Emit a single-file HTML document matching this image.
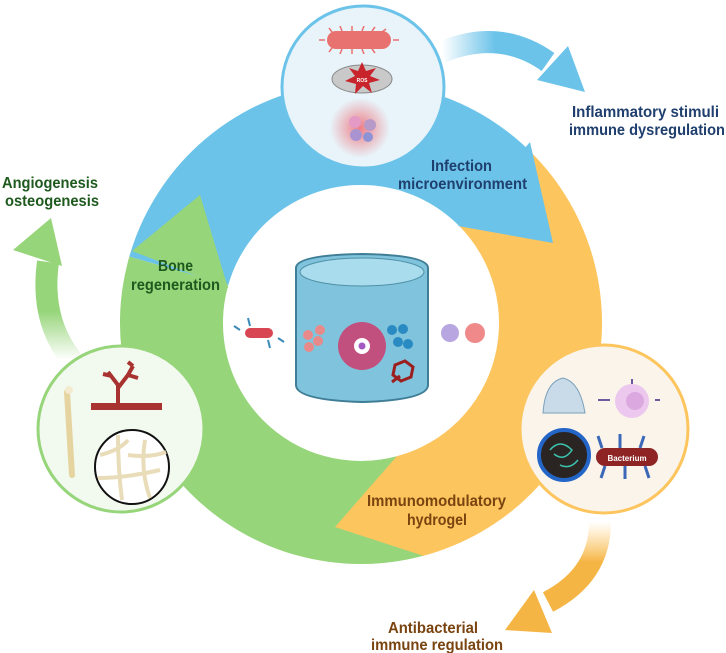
<!DOCTYPE html>
<html><head><meta charset="utf-8"><style>
html,body{margin:0;padding:0;background:#fff;}
svg{display:block;}
text{font-family:"Liberation Sans",sans-serif;font-weight:bold;}
</style></head><body>
<svg width="726" height="653" viewBox="0 0 726 653" xmlns="http://www.w3.org/2000/svg">
<defs>
<linearGradient id="gb" x1="0" y1="0" x2="1" y2="0"><stop offset="0" stop-color="#6cc3e9" stop-opacity="0"/><stop offset="0.5" stop-color="#6cc3e9"/></linearGradient>
<linearGradient id="gg" x1="0" y1="1" x2="0" y2="0"><stop offset="0" stop-color="#97d57a" stop-opacity="0"/><stop offset="0.5" stop-color="#97d57a"/></linearGradient>
<linearGradient id="gy" x1="0" y1="0" x2="0" y2="1"><stop offset="0" stop-color="#fdc55e" stop-opacity="0"/><stop offset="0.5" stop-color="#f5b545"/></linearGradient>
<radialGradient id="rg"><stop offset="0" stop-color="#f0606a" stop-opacity="0.8"/><stop offset="1" stop-color="#f0606a" stop-opacity="0"/></radialGradient>
</defs>
<path d="M442,52 Q500,28 548,62" stroke="url(#gb)" stroke-width="22" fill="none"/>
<polygon points="585,92 537,80 568,46" fill="#6cc3e9"/>
<path d="M72,360 Q40,320 48,262" stroke="url(#gg)" stroke-width="22" fill="none"/>
<polygon points="51,218 13,250 62,266" fill="#97d57a"/>
<path d="M600,522 Q600,575 548,602" stroke="url(#gy)" stroke-width="22" fill="none"/>
<polygon points="505,630 534,590 552,633" fill="#f5b545"/>
<path d="M129.3,256.6 A241,241 0 0 1 531.4,152.6 L458.6,225.4 A138,138 0 0 0 228.3,285 Z" fill="#6cc3e9"/>
<path d="M531.4,152.6 A241,241 0 0 1 423.4,555.8 L396.7,456.3 A138,138 0 0 0 458.6,225.4 Z" fill="#fdc55e"/>
<path d="M423.4,555.8 A241,241 0 0 1 129.3,256.6 L228.3,285 A138,138 0 0 0 396.7,456.3 Z" fill="#97d57a"/>
<polygon points="530,142 553,243 458,226" fill="#6cc3e9"/>
<polygon points="132,251 200,195 228,288" fill="#97d57a"/>
<polygon points="424,556 335,527 397,456" fill="#fdc55e"/>
<g font-size="15.5" lengthAdjust="spacingAndGlyphs">
<text x="431" y="171" textLength="61" lengthAdjust="spacingAndGlyphs" fill="#1f3f6e">Infection</text>
<text x="398" y="189" textLength="129" lengthAdjust="spacingAndGlyphs" fill="#1f3f6e">microenvironment</text>
<text x="158" y="271" textLength="35" lengthAdjust="spacingAndGlyphs" fill="#1e5a1e">Bone</text>
<text x="131" y="290" textLength="89" lengthAdjust="spacingAndGlyphs" fill="#1e5a1e">regeneration</text>
<text x="367" y="506" textLength="139" lengthAdjust="spacingAndGlyphs" fill="#7a4410">Immunomodulatory</text>
<text x="407" y="525" textLength="60" lengthAdjust="spacingAndGlyphs" fill="#7a4410">hydrogel</text>
<text x="572" y="117" textLength="147" lengthAdjust="spacingAndGlyphs" fill="#1f3f6e">Inflammatory stimuli</text>
<text x="569" y="135" textLength="156" lengthAdjust="spacingAndGlyphs" fill="#1f3f6e">immune dysregulation</text>
<text x="2" y="188" textLength="96" lengthAdjust="spacingAndGlyphs" fill="#1e5a1e">Angiogenesis</text>
<text x="5" y="206" textLength="94" lengthAdjust="spacingAndGlyphs" fill="#1e5a1e">osteogenesis</text>
<text x="388" y="633" textLength="90" lengthAdjust="spacingAndGlyphs" fill="#7a4410">Antibacterial</text>
<text x="371" y="650" textLength="132" lengthAdjust="spacingAndGlyphs" fill="#7a4410">immune regulation</text>
</g>
<circle cx="363" cy="87" r="81" fill="#e8f4fa" stroke="#6cc3e9" stroke-width="3"/>
<g stroke="#e86f6f" stroke-width="1.5" fill="none">
<path d="M332,32 l-3,-4 M342,31 l-2,-5 M352,31 l0,-5 M362,31 l2,-5 M372,31 l3,-4 M382,32 l4,-3 M332,48 l-3,4 M342,49 l-2,5 M352,49 l0,5 M362,49 l2,5 M372,49 l3,4 M325,40 l-6,0 M393,40 l6,0"/>
</g>
<rect x="327" y="31" width="64" height="18" rx="9" fill="#e8726f"/>
<ellipse cx="362" cy="79" rx="30" ry="14" fill="#c9c9c9" stroke="#888" stroke-width="1"/>
<polygon points="362,62 366,71 376,68 370,76 380,80 369,83 372,93 363,86 355,94 356,84 345,81 355,76 349,68 358,71" fill="#c8242c"/>
<text x="362" y="82" font-size="5" fill="#fff" text-anchor="middle">ROS</text>
<circle cx="360" cy="128" r="30" fill="url(#rg)"/>
<circle cx="355" cy="122" r="6" fill="#e49ac4"/><circle cx="370" cy="125" r="6" fill="#b89ac8"/><circle cx="356" cy="135" r="6" fill="#a993d1"/><circle cx="368" cy="137" r="5" fill="#8e93d6"/>
<circle cx="121" cy="429" r="83" fill="#f2f9ee" stroke="#97d57a" stroke-width="3"/>
<path d="M67,392 L72,475" stroke="#e6d4a0" stroke-width="6" stroke-linecap="round"/>
<circle cx="69" cy="390" r="4" fill="#f3ead0"/>
<rect x="91" y="403" width="71" height="7" fill="#a83230"/>
<path d="M118,403 L118,385 L108,372 M118,388 L128,375 L133,366 M128,375 L138,378 M112,376 L103,374 M133,366 L128,362" stroke="#a83230" stroke-width="4" fill="none"/>
<circle cx="132" cy="467" r="37" fill="#fff" stroke="#111" stroke-width="2"/>
<path d="M100,455 Q120,450 128,440 M98,478 Q125,478 160,470 M118,435 Q118,470 122,500 M145,440 Q140,470 150,498 M128,455 Q150,458 166,452" stroke="#e9dcb8" stroke-width="4" fill="none"/>
<circle cx="604" cy="429" r="84" fill="#faf4ea" stroke="#fdc55e" stroke-width="3"/>
<path d="M543,413 Q545,382 563,378 Q580,382 585,413 Z" fill="#c9dbe8" stroke="#7aa0bc"/>
<circle cx="632" cy="401" r="17" fill="#ecc8ee"/><circle cx="635" cy="401" r="9" fill="#dba8e0"/>
<path d="M598,400 l12,0 M655,400 l5,0 M632,384 l0,-5" stroke="#6a5a9e" stroke-width="2"/>
<circle cx="564" cy="455" r="25" fill="#2a2522" stroke="#2466c8" stroke-width="4"/>
<path d="M550,450 q10,-12 22,0 q-8,12 -18,4 M560,465 q10,5 18,-5" stroke="#3bc4b0" stroke-width="1.5" fill="none"/>
<rect x="596" y="448" width="62" height="18" rx="9" fill="#8e2424"/>
<text x="627" y="461" font-size="8" fill="#fff" text-anchor="middle">Bacterium</text>
<path d="M602,448 l-4,-12 M620,448 l0,-14 M640,448 l4,-12 M605,466 l-4,12 M625,466 l0,13 M645,466 l4,12" stroke="#3c68b8" stroke-width="3"/>
<path d="M296,268 Q296,255 362,254 Q428,255 428,268 L428,385 Q428,400 362,402 Q296,400 296,385 Z" fill="#7fc4dc" stroke="#3f7e96" stroke-width="2"/>
<ellipse cx="362" cy="272" rx="62" ry="14" fill="#a9dcec" stroke="#4f90a8"/>
<circle cx="362" cy="346" r="24" fill="#c2507e"/>
<circle cx="362" cy="346" r="8" fill="#fff"/><circle cx="362" cy="346" r="3.5" fill="#a35ac2"/>
<circle cx="308" cy="335" r="5" fill="#e88a8a"/><circle cx="320" cy="330" r="5" fill="#e88a8a"/><circle cx="309" cy="347" r="5" fill="#e88a8a"/><circle cx="318" cy="341" r="5" fill="#e88a8a"/>
<circle cx="392" cy="330" r="5" fill="#2a8ac2"/><circle cx="403" cy="329" r="5" fill="#2a8ac2"/><circle cx="398" cy="342" r="5" fill="#2a8ac2"/><circle cx="408" cy="344" r="5" fill="#2a8ac2"/>
<path d="M395,365 l10,-4 l8,6 l-2,10 l-10,4 l-8,-6 Z M400,376 l-8,6" stroke="#9c1f1f" stroke-width="3" fill="none"/>
<rect x="245" y="328" width="28" height="10" rx="5" fill="#d84654"/>
<path d="M240,330 l-6,-4 M278,338 l6,4 M250,326 l-2,-8 M268,340 l2,8" stroke="#3c8ab8" stroke-width="2"/>
<circle cx="450" cy="333" r="9" fill="#b7a6e0"/><circle cx="475" cy="333" r="10" fill="#f08a8a"/>
</svg>
</body></html>
